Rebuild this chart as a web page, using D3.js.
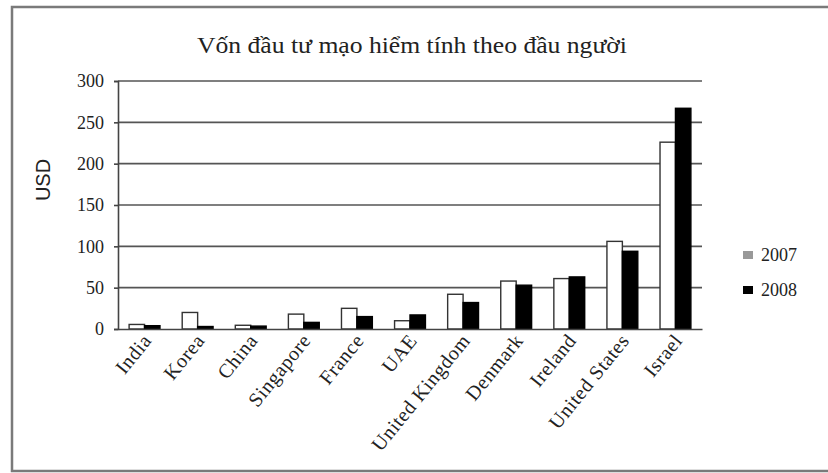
<!DOCTYPE html>
<html>
<head>
<meta charset="utf-8">
<script src="https://cdnjs.cloudflare.com/ajax/libs/d3/7.8.5/d3.min.js"></script>
<style>
  html, body { margin: 0; padding: 0; background: #fff; }
  svg { display: block; }
</style>
</head>
<body>
<svg id="chart" width="828" height="473"></svg>
<script>
const title = "Vốn đầu tư mạo hiểm tính theo đầu người";
const yAxisLabel = "USD";
const categories = ["India", "Korea", "China", "Singapore", "France", "UAE",
  "United Kingdom", "Denmark", "Ireland", "United States", "Israel"];
const seriesNames = ["2007", "2008"];
const values2007 = [5.5, 20, 4.5, 18, 25, 10, 42, 58, 61, 106, 226];
const values2008 = [4, 3, 3.5, 8, 15, 17, 32, 53, 63, 94, 267];
const yTicks = [0, 50, 100, 150, 200, 250, 300];

const SERIF = "\"Liberation Serif\", \"DejaVu Serif\", serif";
const svg = d3.select("#chart");

// outer frame
svg.append("rect")
  .attr("x", 12).attr("y", 7).attr("width", 830).attr("height", 464)
  .attr("fill", "none").attr("stroke", "#7a7a7a").attr("stroke-width", 2.5);

const plotLeft = 118, plotRight = 702, plotTop = 81, plotBottom = 329;

const x = d3.scaleBand().domain(categories).range([plotLeft, plotRight]).padding(0);
const xi = d3.scaleBand().domain(seriesNames).range([0, x.bandwidth()])
  .paddingInner(0).paddingOuter(0.72);
const y = d3.scaleLinear().domain([0, 300]).range([plotBottom, plotTop]);

// title
svg.append("text")
  .attr("x", 412).attr("y", 53)
  .attr("text-anchor", "middle")
  .attr("textLength", 430)
  .attr("lengthAdjust", "spacingAndGlyphs")
  .style("font-family", SERIF).style("font-size", "24px").style("fill", "#222")
  .text(title);

// gridlines
svg.append("g").selectAll("line")
  .data(yTicks.filter(d => d > 0))
  .join("line")
  .attr("x1", plotLeft).attr("x2", plotRight)
  .attr("y1", d => y(d)).attr("y2", d => y(d))
  .attr("stroke", "#555").attr("stroke-width", 1.6);

// y axis
const yAxis = d3.axisLeft(y).tickValues(yTicks).tickSize(4).tickPadding(10);
const gy = svg.append("g").attr("transform", `translate(${plotLeft},0)`).call(yAxis);
gy.select(".domain").attr("stroke", "#444").attr("stroke-width", 1.6);
gy.selectAll(".tick line").attr("stroke", "#444").attr("stroke-width", 1.6);
gy.selectAll(".tick text")
  .style("font-family", SERIF).style("font-size", "18px").style("fill", "#222");

// y axis label
svg.append("text")
  .attr("transform", "translate(50,180) rotate(-90)")
  .attr("text-anchor", "middle")
  .style("font-family", "\"Liberation Sans\", sans-serif")
  .style("font-size", "20px").style("fill", "#222")
  .text(yAxisLabel);

// bars
const rows = categories.map((c, i) => ({ cat: c, vals: [values2007[i], values2008[i]] }));
const groups = svg.append("g").selectAll("g")
  .data(rows).join("g")
  .attr("transform", d => `translate(${x(d.cat)},0)`);
groups.selectAll("rect")
  .data(d => d.vals.map((v, j) => ({ s: seriesNames[j], v })))
  .join("rect")
  .attr("x", d => xi(d.s))
  .attr("width", xi.bandwidth())
  .attr("y", d => y(d.v))
  .attr("height", d => plotBottom - y(d.v))
  .attr("fill", d => d.s === "2007" ? "#fff" : "#000")
  .attr("stroke", d => d.s === "2007" ? "#333" : "#000")
  .attr("stroke-width", 1.4);

// x axis
const xAxis = d3.axisBottom(x).tickSize(0).tickPadding(0);
const gx = svg.append("g").attr("transform", `translate(0,${plotBottom})`).call(xAxis);
gx.select(".domain").attr("stroke", "#444").attr("stroke-width", 1.6);
gx.selectAll(".tick text")
  .style("font-family", SERIF).style("font-size", "20px").style("fill", "#222")
  .style("letter-spacing", "0.6px")
  .attr("text-anchor", "end")
  .attr("dy", 0)
  .attr("y", 0)
  .attr("transform", "translate(8,12) rotate(-51)");

// legend
const legend = svg.append("g");
const legendY = { "2007": 255, "2008": 290 };
seriesNames.forEach(s => {
  legend.append("rect")
    .attr("x", 743).attr("y", legendY[s] - 4).attr("width", 10).attr("height", 8)
    .attr("fill", s === "2007" ? "#999" : "#000");
  legend.append("text")
    .attr("x", 761).attr("y", legendY[s] + 6)
    .style("font-family", SERIF).style("font-size", "18px").style("fill", "#222")
    .text(s);
});
</script>
</body>
</html>
